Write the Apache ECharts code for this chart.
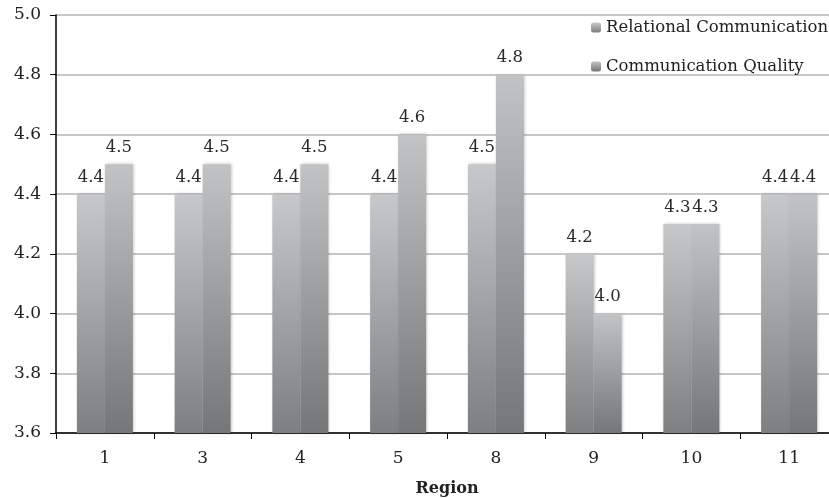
<!DOCTYPE html>
<html>
<head>
<meta charset="utf-8">
<script src="https://cdn.jsdelivr.net/npm/echarts@6/dist/echarts.min.js"></script>
<style>
  html, body { margin: 0; padding: 0; background: #fff; }
  #chart { width: 829px; height: 498px; }
</style>
</head>
<body>
<div id="chart"></div>
<script>
// Mean scores by region
const regions = ['1', '3', '4', '5', '8', '9', '10', '11'];
const relationalCommunication = [4.4, 4.4, 4.4, 4.4, 4.5, 4.2, 4.3, 4.4];
const communicationQuality = [4.5, 4.5, 4.5, 4.6, 4.8, 4.0, 4.3, 4.4];
const yTicks = { min: 3.6, max: 5.0, step: 0.2 };

const serif = '"DejaVu Serif", "Liberation Serif", serif';

function barFill(top, bottom) {
  return new echarts.graphic.LinearGradient(0, 0, 0, 1, [
    { offset: 0, color: top },
    { offset: 1, color: bottom }
  ]);
}

const chart = echarts.init(document.getElementById('chart'), null, { renderer: 'canvas' });

const labelStyle = {
  show: true,
  position: 'top',
  distance: 8,
  color: '#2a2a2a',
  fontFamily: serif,
  fontSize: 16.5,
  formatter: p => p.value.toFixed(1)
};

chart.setOption({
  animation: false,
  backgroundColor: '#ffffff',
  grid: { left: 56, top: 15, width: 782, height: 418, containLabel: false, outerBoundsMode: 'none' },
  legend: {
    orient: 'vertical',
    left: 586,
    top: 14,
    itemWidth: 10,
    itemHeight: 10,
    itemGap: 22,
    textStyle: { fontFamily: serif, fontSize: 16.5, color: '#222' },
    data: ['Relational Communication', 'Communication Quality']
  },
  xAxis: {
    type: 'category',
    data: regions,
    name: 'Region',
    nameLocation: 'middle',
    nameGap: 48,
    nameTextStyle: { fontFamily: serif, fontSize: 16, fontWeight: 'bold', color: '#222' },
    axisLine: { lineStyle: { color: '#000', width: 1.5 } },
    axisTick: { show: true, alignWithLabel: false, length: 6, lineStyle: { color: '#000' } },
    axisLabel: { fontFamily: serif, fontSize: 17, color: '#222', margin: 17 },
    splitLine: { show: false }
  },
  yAxis: {
    type: 'value',
    min: yTicks.min,
    max: yTicks.max,
    interval: yTicks.step,
    axisLine: { show: true, lineStyle: { color: '#000', width: 1.5 } },
    axisTick: { show: true, length: 6, lineStyle: { color: '#000' } },
    axisLabel: { fontFamily: serif, fontSize: 17, color: '#222', margin: 15, formatter: v => v.toFixed(1) },
    splitLine: { show: true, lineStyle: { color: '#b4b4b4', width: 1.5 } }
  },
  series: [
    {
      name: 'Relational Communication',
      type: 'bar',
      data: relationalCommunication,
      barWidth: 28,
      barGap: '0%',
      itemStyle: {
        color: barFill('#c7c8ca', '#7e7f81'),
        shadowColor: 'rgba(0,0,0,0.25)',
        shadowBlur: 3,
        shadowOffsetX: 1
      },
      label: labelStyle
    },
    {
      name: 'Communication Quality',
      type: 'bar',
      data: communicationQuality,
      barWidth: 28,
      itemStyle: {
        color: barFill('#c2c3c5', '#757678'),
        shadowColor: 'rgba(0,0,0,0.25)',
        shadowBlur: 3,
        shadowOffsetX: 1
      },
      label: labelStyle
    }
  ]
});
</script>
</body>
</html>
